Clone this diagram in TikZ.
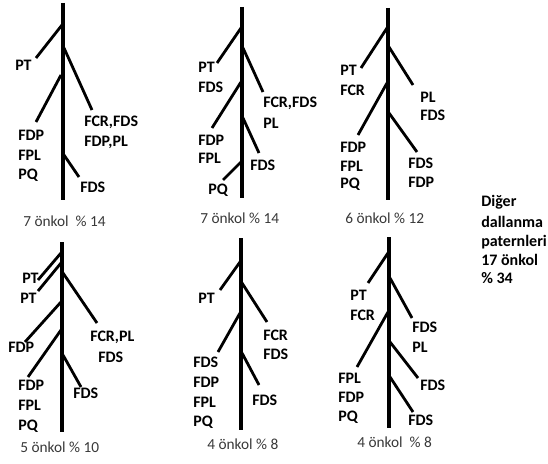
\documentclass[tikz,border=0pt]{standalone}
\usepackage{fontspec}
\setmainfont{Carlito}
\begin{document}
\begin{tikzpicture}[x=0.75pt,y=-0.75pt,
  stem/.style={line width=2.3pt},
  twig/.style={line width=2.1pt},
  lbl/.style={font=\bfseries\fontsize{12}{14}\selectfont, anchor=west, inner sep=0pt},
  capt/.style={font=\fontsize{11.5}{13}\selectfont, text=black!78, anchor=west, inner sep=0pt},
  side/.style={font=\bfseries\fontsize{12}{14}\selectfont, anchor=west, inner sep=0pt}]
\useasboundingbox (0,0) rectangle (548,463);

% ---------- pattern 1 ----------
\coordinate (a-top) at (63,3); \coordinate (a-bot) at (63,200);
\draw[stem] (a-top) -- (a-bot);
\coordinate (a-s1) at (62,25);  \coordinate (a-e1) at (36,58);
\coordinate (a-s2) at (64,48);  \coordinate (a-e2) at (92,110);
\coordinate (a-s3) at (61,75);  \coordinate (a-e3) at (36,122);
\coordinate (a-s4) at (64,155); \coordinate (a-e4) at (79,177);
\foreach \i in {1,...,4} \draw[twig] (a-s\i) -- (a-e\i);
\node[lbl] (a-pt)  at (15,65)  {PT};
\node[lbl] (a-r1)  at (84,122) {FCR,FDS};
\node[lbl] (a-r2)  at (84,142) {FDP,PL};
\node[lbl] (a-l1)  at (18,135) {FDP};
\node[lbl] (a-l2)  at (18,155) {FPL};
\node[lbl] (a-l3)  at (18,175) {PQ};
\node[lbl] (a-r3)  at (80,187) {FDS};
\node[capt] (a-cap) at (23,221) {7 önkol\ \ \% 14};

% ---------- pattern 2 ----------
\coordinate (b-top) at (242,7); \coordinate (b-bot) at (242,198);
\draw[stem] (b-top) -- (b-bot);
\coordinate (b-s1) at (241,28);  \coordinate (b-e1) at (217,63);
\coordinate (b-s2) at (243,48);  \coordinate (b-e2) at (263,92);
\coordinate (b-s3) at (241,82);  \coordinate (b-e3) at (212,128);
\coordinate (b-s4) at (243,118); \coordinate (b-e4) at (259,153);
\coordinate (b-s5) at (241,162); \coordinate (b-e5) at (223,180);
\foreach \i in {1,...,5} \draw[twig] (b-s\i) -- (b-e\i);
\node[lbl] (b-pt)  at (198,67)  {PT};
\node[lbl] (b-l0)  at (198,87)  {FDS};
\node[lbl] (b-r1)  at (263,103) {FCR,FDS};
\node[lbl] (b-r2)  at (263,123) {PL};
\node[lbl] (b-l1)  at (198,140) {FDP};
\node[lbl] (b-l2)  at (198,158) {FPL};
\node[lbl] (b-r3)  at (250,165) {FDS};
\node[lbl] (b-l3)  at (208,190) {PQ};
\node[capt] (b-cap) at (200,218) {7 önkol \% 14};

% ---------- pattern 3 ----------
\coordinate (c-top) at (388,8); \coordinate (c-bot) at (388,200);
\draw[stem] (c-top) -- (c-bot);
\coordinate (c-s1) at (387,28);  \coordinate (c-e1) at (361,68);
\coordinate (c-s2) at (389,47);  \coordinate (c-e2) at (413,85);
\coordinate (c-s3) at (387,83);  \coordinate (c-e3) at (358,135);
\coordinate (c-s4) at (389,113); \coordinate (c-e4) at (417,152);
\foreach \i in {1,...,4} \draw[twig] (c-s\i) -- (c-e\i);
\node[lbl] (c-pt)  at (340,70)  {PT};
\node[lbl] (c-l0)  at (340,90)  {FCR};
\node[lbl] (c-r1)  at (420,97)  {PL};
\node[lbl] (c-r2)  at (420,115) {FDS};
\node[lbl] (c-l1)  at (340,147) {FDP};
\node[lbl] (c-l2)  at (340,166) {FPL};
\node[lbl] (c-l3)  at (340,184) {PQ};
\node[lbl] (c-r3)  at (408,163) {FDS};
\node[lbl] (c-r4)  at (408,182) {FDP};
\node[capt] (c-cap) at (345,218) {6 önkol \% 12};

% ---------- pattern 4 ----------
\coordinate (d-top) at (62,242); \coordinate (d-bot) at (62,432);
\draw[stem] (d-top) -- (d-bot);
\coordinate (d-s1) at (61,253); \coordinate (d-e1) at (38,280);
\coordinate (d-s2) at (61,263); \coordinate (d-e2) at (38,291);
\coordinate (d-s3) at (63,273); \coordinate (d-e3) at (97,323);
\coordinate (d-s4) at (61,302); \coordinate (d-e4) at (25,342);
\coordinate (d-s5) at (61,330); \coordinate (d-e5) at (28,377);
\coordinate (d-s6) at (63,355); \coordinate (d-e6) at (81,387);
\foreach \i in {1,...,6} \draw[twig] (d-s\i) -- (d-e\i);
\node[lbl] (d-pt1) at (22,278)  {PT};
\node[lbl] (d-pt2) at (20,298)  {PT};
\node[lbl] (d-r1)  at (90,337)  {FCR,PL};
\node[lbl] (d-r2)  at (98,357)  {FDS};
\node[lbl] (d-l0)  at (8,347)   {FDP};
\node[lbl] (d-l1)  at (18,385)  {FDP};
\node[lbl] (d-l2)  at (18,405)  {FPL};
\node[lbl] (d-l3)  at (18,426)  {PQ};
\node[lbl] (d-r3)  at (73,393)  {FDS};
\node[capt] (d-cap) at (20,447) {5 önkol \% 10};

% ---------- pattern 5 ----------
\coordinate (e-top) at (241,238); \coordinate (e-bot) at (241,430);
\draw[stem] (e-top) -- (e-bot);
\coordinate (e-s1) at (240,262); \coordinate (e-e1) at (220,290);
\coordinate (e-s2) at (242,283); \coordinate (e-e2) at (267,322);
\coordinate (e-s3) at (240,313); \coordinate (e-e3) at (218,352);
\coordinate (e-s4) at (242,353); \coordinate (e-e4) at (259,385);
\foreach \i in {1,...,4} \draw[twig] (e-s\i) -- (e-e\i);
\node[lbl] (e-pt)  at (198,298) {PT};
\node[lbl] (e-r1)  at (263,335) {FCR};
\node[lbl] (e-r2)  at (263,354) {FDS};
\node[lbl] (e-l0)  at (193,362) {FDS};
\node[lbl] (e-l1)  at (193,382) {FDP};
\node[lbl] (e-l2)  at (193,402) {FPL};
\node[lbl] (e-l3)  at (193,422) {PQ};
\node[lbl] (e-r3)  at (252,400) {FDS};
\node[capt] (e-cap) at (207,444) {4 önkol \% 8};

% ---------- pattern 6 ----------
\coordinate (f-top) at (389,237); \coordinate (f-bot) at (389,428);
\draw[stem] (f-top) -- (f-bot);
\coordinate (f-s1) at (388,253); \coordinate (f-e1) at (368,283);
\coordinate (f-s2) at (390,278); \coordinate (f-e2) at (412,318);
\coordinate (f-s3) at (388,312); \coordinate (f-e3) at (357,367);
\coordinate (f-s4) at (390,342); \coordinate (f-e4) at (418,378);
\coordinate (f-s5) at (390,377); \coordinate (f-e5) at (413,412);
\foreach \i in {1,...,5} \draw[twig] (f-s\i) -- (f-e\i);
\node[lbl] (f-pt)  at (350,295) {PT};
\node[lbl] (f-l0)  at (350,315) {FCR};
\node[lbl] (f-r1)  at (412,327) {FDS};
\node[lbl] (f-r2)  at (412,347) {PL};
\node[lbl] (f-r3)  at (420,385) {FDS};
\node[lbl] (f-l1)  at (338,378) {FPL};
\node[lbl] (f-l2)  at (338,397) {FDP};
\node[lbl] (f-l3)  at (338,417) {PQ};
\node[lbl] (f-r4)  at (408,420) {FDS};
\node[capt] (f-cap) at (357,442) {4 önkol\ \ \% 8};

% ---------- summary of the remaining patterns ----------
\node[side] (g1) at (481,202) {Diğer};
\node[side] (g2) at (481,222) {dallanma};
\node[side] (g3) at (481,242) {paternleri};
\node[side] (g4) at (481,260) {17 önkol};
\node[side] (g5) at (481,278) {\% 34};
\end{tikzpicture}
\end{document}
